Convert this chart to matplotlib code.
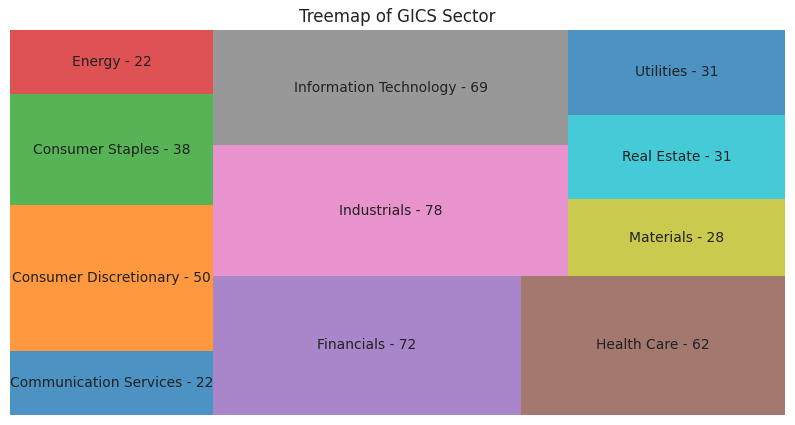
import matplotlib.pyplot as plt

sectors = ["Communication Services", "Consumer Discretionary", "Consumer Staples",
           "Energy", "Financials", "Health Care", "Industrials",
           "Information Technology", "Materials", "Real Estate", "Utilities"]
counts = [22, 50, 38, 22, 72, 62, 78, 69, 28, 31, 31]


# small squarify implementation (same algorithm as the squarify package)
def layoutrow(sizes, x, y, dx, dy):
    width = sum(sizes) / dy
    rects = []
    for s in sizes:
        rects.append((x, y, width, s / width))
        y += s / width
    return rects


def layoutcol(sizes, x, y, dx, dy):
    height = sum(sizes) / dx
    rects = []
    for s in sizes:
        rects.append((x, y, s / height, height))
        x += s / height
    return rects


def layout(sizes, x, y, dx, dy):
    return layoutrow(sizes, x, y, dx, dy) if dx >= dy else layoutcol(sizes, x, y, dx, dy)


def leftover(sizes, x, y, dx, dy):
    if dx >= dy:
        w = sum(sizes) / dy
        return x + w, y, dx - w, dy
    h = sum(sizes) / dx
    return x, y + h, dx, dy - h


def worst(sizes, x, y, dx, dy):
    return max(max(w / h, h / w) for _, _, w, h in layout(sizes, x, y, dx, dy))


def squarify(sizes, x, y, dx, dy):
    if len(sizes) == 0:
        return []
    if len(sizes) == 1:
        return layout(sizes, x, y, dx, dy)
    i = 1
    while i < len(sizes) and worst(sizes[:i], x, y, dx, dy) >= worst(sizes[:i + 1], x, y, dx, dy):
        i += 1
    cur, rest = sizes[:i], sizes[i:]
    return layout(cur, x, y, dx, dy) + squarify(rest, *leftover(cur, x, y, dx, dy))


total = sum(counts)
norm = [c * 100 * 100 / total for c in counts]
rects = squarify(norm, 0, 0, 100, 100)

colors = plt.cm.tab10.colors
fig = plt.figure(figsize=(7.95, 4.25), dpi=100)
ax = fig.add_axes([10 / 795, 10 / 425, 775 / 795, 385 / 425])
for i, (r, name, c) in enumerate(zip(rects, sectors, counts)):
    x, y, w, h = r
    ax.bar(x, h, width=w, bottom=y, align="edge", color=colors[i % 10], alpha=0.8)
    ax.text(x + w / 2, y + h / 2, f"{name} - {c}", ha="center", va="center",
            fontsize=10, color="#222222")
ax.set_xlim(0, 100)
ax.set_ylim(0, 100)
ax.axis("off")
ax.set_title("Treemap of GICS Sector", fontsize=12, color="#222222", pad=6)
fig.savefig("out.png", dpi=100)
